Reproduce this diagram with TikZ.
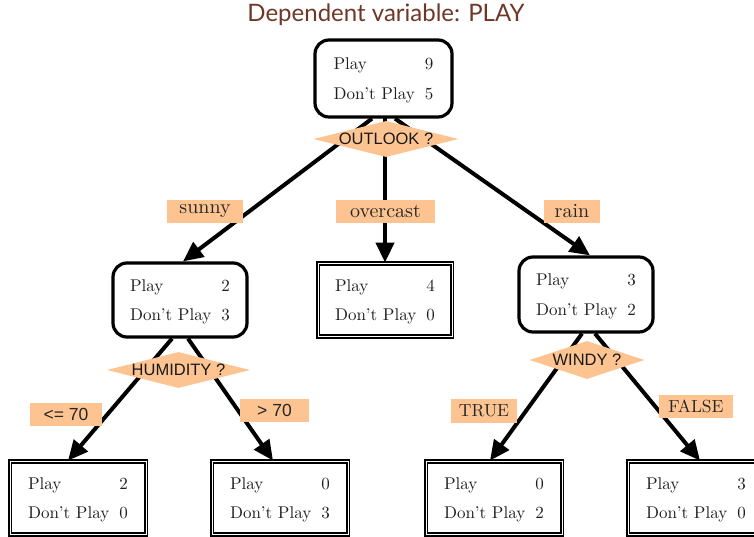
\documentclass[tikz,border=0pt]{standalone}
\usepackage{fontspec}
\newfontfamily\labsans{Liberation Sans}
\newfontfamily\titlesans{Lato}
\usetikzlibrary{shapes.geometric,arrows.meta,calc}
\definecolor{peach}{RGB}{253,196,145}
\definecolor{titlebrown}{RGB}{110,55,38}
\newcommand{\countsrows}[2]{\scalebox{1.7}{\fontsize{10}{17.6}\selectfont\begin{tabular}{@{}l@{\hspace{6pt}}r@{}}Play & #1\\Don't Play & #2\end{tabular}}}
\newcommand{\labtext}[2]{\scalebox{#1}{\fontsize{10}{12}\selectfont #2}}
\tikzset{
  inner/.style={draw=black, line width=3.2pt, rounded corners=14pt, fill=white,
    minimum width=134pt, minimum height=75pt, inner sep=0pt, text=black!88},
  leaf/.style={draw=black, line width=1.8pt, double=white, double distance=0.8pt, fill=white,
    minimum width=134pt, minimum height=73pt, inner sep=0pt, text=black!88},
  question/.style={diamond, aspect=4, fill=peach, inner sep=0pt,
    font=\labsans\fontsize{16.5}{18}\selectfont, text=black!90},
  edgelab/.style={fill=peach, inner sep=0pt, minimum height=23pt, text=black!85},
  edgelabsans/.style={edgelab, font=\labsans\fontsize{17.5}{20}\selectfont},
  conn/.style={line width=4pt, -{Triangle[length=20pt,width=18pt]}}
}
\begin{document}
\begin{tikzpicture}[x=1pt,y=-1pt]
\useasboundingbox (0,0) rectangle (754,537);
% title
\node[text=titlebrown, font=\titlesans\fontsize{24}{27}\selectfont] (title) at (386,15) {Dependent variable: PLAY};
% boxes
\node[inner, minimum width=137pt, minimum height=77pt] (root) at (383.5,78.5) {\countsrows{9}{5}};
\node[inner, minimum height=74pt] (sunnyb) at (180,300) {\countsrows{2}{3}};
\node[leaf] (overb) at (385,300) {\countsrows{4}{0}};
\node[inner] (rainb) at (586,294.5) {\countsrows{3}{2}};
\node[leaf, minimum width=136pt] (leafa) at (78,498) {\countsrows{2}{0}};
\node[leaf, minimum width=136pt] (leafb) at (280,498) {\countsrows{0}{3}};
\node[leaf, minimum width=136pt] (leafc) at (494,498) {\countsrows{0}{2}};
\node[leaf, minimum width=136pt] (leafd) at (696,498) {\countsrows{3}{0}};
% connectors
\draw[conn] ($(root.south)+(-11.5,0)$) -- ($(sunnyb.north)+(3,0)$);
\draw[conn] ($(overb.north)+(0,-146)$) -- (overb.north);
\draw[conn] ($(root.south)+(11.5,0)$) -- ($(rainb.north)+(4,0)$);
\draw[conn] ($(sunnyb.south)+(-8,0)$) -- ($(leafa.north)+(-10,0)$);
\draw[conn] ($(sunnyb.south)+(8,0)$) -- ($(leafb.north)+(-7,0)$);
\draw[conn] ($(rainb.south)+(-4,0)$) -- ($(leafc.north)+(-4,0)$);
\draw[conn] ($(rainb.south)+(9,0)$) -- ($(leafd.north)+(4,0)$);
% questions
\node[question, minimum width=145pt, minimum height=36pt] (outlook) at (386,139) {OUTLOOK ?};
\node[question, minimum width=143pt, minimum height=36pt] (humid) at (178.5,370) {HUMIDITY ?};
\node[question, minimum width=114pt, minimum height=38pt] (windy) at (587,360) {WINDY ?};
% edge labels
\node[edgelab, minimum width=76pt] (lsunny) at (205,211.5) {\labtext{2.0}{sunny}};
\node[edgelab, minimum width=99pt] (lover) at (385.5,211.5) {\labtext{2.0}{overcast}};
\node[edgelab, minimum width=56pt] (lrain) at (572,211.5) {\labtext{2.0}{rain}};
\node[edgelabsans, minimum width=72pt] (lle) at (66,414.5) {<= 70};
\node[edgelabsans, minimum width=69pt] (lgt) at (274.5,410.5) {> 70};
\node[edgelab, minimum width=66pt, minimum height=24pt] (ltrue) at (484,411) {\labtext{1.75}{TRUE}};
\node[edgelab, minimum width=74pt] (lfalse) at (696,406.5) {\labtext{1.75}{FALSE}};
\end{tikzpicture}
\end{document}
